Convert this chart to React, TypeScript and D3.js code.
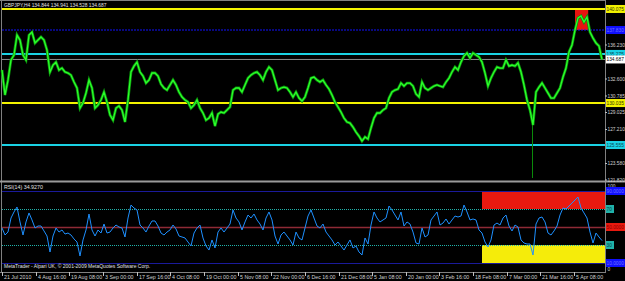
import React, { useEffect } from "react";
import * as d3 from "d3";

const W = 625;
const H = 281;

// ---- data ----
const symbolTitle = "GBPJPY,H4  134.844 134.941 134.528 134.687";
const rsiTitle = "RSI(14) 34.9270";
const footer = "MetaTrader - Alpari UK, \u00a9 2001-2009 MetaQuotes Software Corp.";

const closes = [
  133.56, 130.89, 132.49, 134.63, 135.16, 137.29, 136.76, 135.16, 134.63, 137.29,
  137.61, 136.44, 136.76, 137.08, 136.76, 135.69, 133.35, 134.09, 134.41, 133.56,
  133.77, 133.35, 133.24, 133.02, 132.28, 131.64, 129.5, 130.04, 131.1, 132.49,
  131.64, 129.5, 129.82, 130.36, 131.21, 130.14, 128.75, 128.22, 129.5, 129.72,
  129.29, 128.01, 130.36, 133.35, 133.98, 134.41, 133.35, 132.92, 132.17, 132.49,
  133.24, 133.24, 132.92, 132.06, 131.64, 131.42, 131.96, 132.49, 131.96, 131.21,
  130.68, 130.36, 130.14, 129.5, 129.82, 130.36, 129.5, 128.97, 128.22, 128.43,
  128.97, 127.58, 128.86, 129.07, 128.97, 129.29, 129.61, 131.42, 131.64, 131.64,
  131.21, 131.96, 132.7, 133.02, 133.24, 133.35, 133.02, 132.49, 133.35, 133.88,
  133.56, 132.49, 131.42, 131.64, 131.74, 131.64, 131.21, 130.68, 131.21, 130.57,
  130.25, 130.68, 131.64, 132.7, 132.81, 132.49, 132.28, 132.49, 131.96, 131.53,
  130.89, 130.14, 129.61, 129.07, 128.43, 128.01, 127.9, 127.47, 126.94, 126.51,
  125.98, 126.41, 126.19, 127.37, 128.43, 128.97, 128.97, 129.29, 129.5, 130.57,
  131.21, 131.42, 131.53, 132.17, 131.85, 132.17, 132.17, 131.85, 131.0, 130.68,
  132.28, 131.64, 131.42, 131.64, 131.85, 131.96, 131.85, 131.74, 132.28, 132.7,
  133.35, 133.88, 133.56, 134.41, 135.05, 135.37, 134.84, 135.37, 135.16, 134.95,
  134.41, 133.24, 131.85, 132.7, 133.35, 133.88, 133.77, 133.77, 134.63, 133.98,
  134.09, 133.98, 134.31, 133.35, 131.96, 130.36, 129.29, 127.69, 131.21, 131.74,
  132.17, 131.64, 131.1, 130.57, 130.57, 131.1, 131.64, 132.81, 133.77, 135.48,
  136.23, 137.83, 139.11, 139.32, 138.68, 139.22, 137.61, 136.97, 136.44, 136.12,
  134.687,
];

const rsiValues = [
  48.9, 41.1, 44.4, 60.0, 66.7, 72.2, 55.6, 41.1, 55.6, 65.6,
  57.8, 48.9, 51.1, 51.1, 45.6, 40.0, 22.2, 40.0, 48.9, 44.4,
  46.7, 42.2, 43.3, 41.1, 36.7, 33.3, 17.8, 35.6, 46.7, 64.4,
  46.7, 40.0, 46.7, 43.3, 53.3, 43.3, 44.4, 48.9, 52.2, 50.0,
  48.9, 38.9, 60.0, 74.4, 71.1, 68.9, 52.2, 48.9, 44.4, 51.1,
  56.7, 56.7, 51.1, 43.3, 41.1, 44.4, 46.7, 52.2, 47.8, 40.0,
  38.9, 37.8, 33.3, 28.9, 43.3, 48.9, 52.2, 37.8, 28.9, 24.4,
  35.6, 26.7, 44.4, 48.9, 44.4, 48.9, 53.3, 68.9, 60.0, 55.6,
  46.7, 55.6, 63.3, 60.0, 64.4, 57.8, 53.3, 46.7, 60.0, 66.7,
  57.8, 40.0, 31.1, 41.1, 44.4, 40.0, 35.6, 30.0, 44.4, 37.8,
  35.6, 48.9, 62.2, 68.9, 60.0, 51.1, 48.9, 53.3, 44.4, 40.0,
  35.6, 30.0, 33.3, 28.9, 24.4, 30.0, 35.6, 26.7, 28.9, 22.2,
  18.9, 37.8, 31.1, 52.2, 66.7, 60.0, 55.6, 57.8, 60.0, 73.3,
  68.9, 63.3, 57.8, 66.7, 51.1, 55.6, 53.3, 44.4, 32.2, 31.1,
  48.9, 38.9, 41.1, 57.8, 62.2, 66.7, 52.2, 54.4, 58.9, 53.3,
  57.8, 62.2, 61.1, 62.2, 74.4, 66.7, 57.8, 58.9, 57.8, 46.7,
  43.3, 33.3, 27.8, 35.6, 52.2, 54.4, 52.2, 60.0, 63.3, 51.1,
  45.6, 52.2, 50.0, 35.6, 32.2, 31.1, 31.1, 18.9, 53.3, 60.0,
  61.1, 55.6, 43.3, 41.1, 45.6, 51.1, 63.3, 71.1, 70.0, 73.3,
  76.7, 80.0, 83.3, 71.1, 65.6, 60.0, 44.4, 32.2, 43.3, 38.9,
  34.93,
];

// long lower wick of one bar (bar index, low)
const spikeBar = 177;
const spikeLow = 122.03;

const dateLabels = [
  "21 Jul 2010", "4 Aug 16:00", "19 Aug 08:00", "3 Sep 00:00", "17 Sep 16:00",
  "4 Oct 08:00", "19 Oct 00:00", "5 Nov 08:00", "22 Nov 00:00", "6 Dec 16:00",
  "21 Dec 08:00", "5 Jan 08:00", "20 Jan 00:00", "3 Feb 16:00", "18 Feb 08:00",
  "7 Mar 00:00", "21 Mar 16:00", "5 Apr 08:00",
];
const barsPerDateLabel = 11.217;

const priceTicks = [136.23, 132.6, 130.785, 129.025, 127.21, 123.58, 121.82];
const priceTickLabels = ["136.230", "132.600", "130.785", "129.025", "127.210", "123.580", "121.820"];

const yellowLevels = [140.075, 130.035];
const yellowLabels = ["140.075", "130.035"];
const cyanLevels = [135.275, 125.555];
const cyanLabels = ["135.275", "125.555"];
const blueLevel = 137.83;
const blueLabel = "137.830";
const bidPrice = 134.687;
const bidLabel = "134.687";

// red box on price chart: bar range, price range
const priceZoneBars = [191, 195.4];
const priceZone = [137.83, 140.075];

// RSI levels and zones
const rsiLevels = [90, 70, 50, 30, 10];
const rsiLevelLabels = ["90.0000", "70", "50.0000", "30", "10.0000"];
const rsiZoneStartBar = 160;
const rsiUpperZone = [70, 90];
const rsiLowerZone = [10, 30];

// ---- layout ----
const plotLeft = 2;
const plotRight = 605;
const mainTop = 0;
const mainBottom = 181;
const rsiTop = 182;
const rsiBottom = 272;
const FONT = "'Liberation Sans', Arial, sans-serif";
const FS = 5.3;
const AFS = 4.8;

export default function App() {
  useEffect(() => {
    document.body.style.margin = "0";
    document.body.style.background = "#000";
  }, []);

  const n = closes.length;
  const x = d3.scaleLinear().domain([0, n - 1]).range([plotLeft, 602]);
  const yP = d3.scaleLinear().domain([121.713, 141.034]).range([mainBottom, mainTop]);
  const yR = d3.scaleLinear().domain([0, 100]).range([rsiBottom, rsiTop]);

  const priceLine = d3
    .line<number>()
    .x((_, i) => x(i))
    .y((d) => yP(d))(closes) as string;
  const rsiLine = d3
    .line<number>()
    .x((_, i) => x(i))
    .y((d) => yR(d))(rsiValues) as string;

  const labelBox = (y: number, text: string, bg: string, fg: string, w = 19, key?: string) => (
    <g key={key ?? text}>
      <rect x={606} y={y - 4} width={w} height={8} fill={bg} />
      <text x={606.5} y={y + 1.8} fontSize={AFS} fill={fg} fontFamily={FONT}>
        {text}
      </text>
    </g>
  );

  const rsiZoneX = x(rsiZoneStartBar);

  return (
    <svg
      width={W}
      height={H}
      style={{ position: "fixed", left: 0, top: 0, display: "block", background: "#000" }}
    >
      <rect x={0} y={0} width={W} height={H} fill="#000" />

      {/* borders */}
      <line x1={0} x2={plotRight} y1={0.5} y2={0.5} stroke="#808080" strokeWidth={1} />
      <line x1={plotLeft - 0.5} x2={plotLeft - 0.5} y1={0} y2={rsiBottom} stroke="#808080" strokeWidth={1} />
      <line x1={plotRight + 0.5} x2={plotRight + 0.5} y1={0} y2={rsiBottom + 1} stroke="#808080" strokeWidth={1} />
      <line x1={0} x2={W} y1={181.5} y2={181.5} stroke="#9a9a9a" strokeWidth={2} />
      <line x1={0} x2={plotRight} y1={rsiBottom + 0.5} y2={rsiBottom + 0.5} stroke="#808080" strokeWidth={1} />

      {/* ---- main panel ---- */}
      <rect
        x={x(priceZoneBars[0])}
        y={yP(priceZone[1])}
        width={x(priceZoneBars[1]) - x(priceZoneBars[0])}
        height={yP(priceZone[0]) - yP(priceZone[1])}
        fill="#e8130f"
      />
      {yellowLevels.map((v, i) => (
        <line key={"yl" + i} x1={plotLeft} x2={plotRight} y1={yP(v)} y2={yP(v)} stroke="#f2f200" strokeWidth={2} />
      ))}
      <line
        x1={plotLeft}
        x2={plotRight}
        y1={yP(blueLevel)}
        y2={yP(blueLevel)}
        stroke="#1010ff"
        strokeWidth={1}
        strokeDasharray="2,1"
      />
      {cyanLevels.map((v, i) => (
        <line key={"cl" + i} x1={plotLeft} x2={plotRight} y1={yP(v)} y2={yP(v)} stroke="#1ad2e4" strokeWidth={2} />
      ))}
      <line x1={plotLeft} x2={plotRight} y1={yP(bidPrice)} y2={yP(bidPrice)} stroke="#8c8c8c" strokeWidth={1} />

      {/* wick */}
      <line
        x1={x(spikeBar) - 0.5}
        x2={x(spikeBar) - 0.5}
        y1={yP(closes[spikeBar])}
        y2={yP(spikeLow)}
        stroke="#0a8a0a"
        strokeWidth={1}
      />
      <path d={priceLine} fill="none" stroke="#0b8f0b" strokeWidth={2.8} strokeLinejoin="miter" />
      <path d={priceLine} fill="none" stroke="#2bff2b" strokeWidth={1.3} strokeLinejoin="miter" />

      <text x={4} y={6.5} fontSize={4.9} fill="#e0e0e0" fontFamily={FONT}>
        {symbolTitle}
      </text>

      {/* price axis */}
      {priceTicks.map((v, i) => (
        <g key={"pt" + i}>
          <line x1={plotRight} x2={plotRight + 2} y1={yP(v)} y2={yP(v)} stroke="#c0c0c0" strokeWidth={1} />
          <text x={607.5} y={yP(v) + 1.8} fontSize={AFS} fill="#d0d0d0" fontFamily={FONT}>
            {priceTickLabels[i]}
          </text>
        </g>
      ))}
      {yellowLevels.map((v, i) => labelBox(yP(v), yellowLabels[i], "#f2f200", "#303000", 19, "yb" + i))}
      {labelBox(yP(blueLevel), blueLabel, "#1010ff", "#7070ff", 19, "bb")}
      {cyanLevels.map((v, i) => labelBox(yP(v), cyanLabels[i], "#1ad2e4", "#0a4a55", 19, "cb" + i))}
      {labelBox(yP(bidPrice), bidLabel, "#ffffff", "#000000", 19, "bid")}

      {/* ---- RSI panel ---- */}
      <rect
        x={rsiZoneX}
        y={yR(rsiUpperZone[1]) + 1}
        width={plotRight - rsiZoneX}
        height={yR(rsiUpperZone[0]) - yR(rsiUpperZone[1]) - 1}
        fill="#e8190f"
      />
      <rect
        x={rsiZoneX}
        y={yR(rsiLowerZone[1])}
        width={plotRight - rsiZoneX}
        height={yR(rsiLowerZone[0]) - yR(rsiLowerZone[1])}
        fill="#f5ec0a"
      />
      {rsiLevels.map((v, i) => {
        const y = Math.round(yR(v)) + 0.5;
        if (v === 50)
          return <line key={"rl" + i} x1={plotLeft} x2={plotRight} y1={y} y2={y} stroke="#8e2a36" strokeWidth={1.6} />;
        if (v === 70 || v === 30)
          return (
            <line key={"rl" + i} x1={plotLeft} x2={plotRight} y1={y} y2={y} stroke="#20b2aa" strokeWidth={1} strokeDasharray="1,1" />
          );
        return <line key={"rl" + i} x1={plotLeft} x2={plotRight} y1={y} y2={y} stroke="#1a1a9a" strokeWidth={1} />;
      })}
      <path d={rsiLine} fill="none" stroke="#1e90ff" strokeWidth={1} strokeLinejoin="miter" />

      <text x={4} y={189} fontSize={FS} fill="#e0e0e0" fontFamily={FONT}>
        {rsiTitle}
      </text>
      <text x={4} y={268} fontSize={5} fill="#e0e0e0" fontFamily={FONT}>
        {footer}
      </text>

      <text x={607.5} y={188} fontSize={AFS} fill="#d0d0d0" fontFamily={FONT}>
        100
      </text>
      <text x={607.5} y={271} fontSize={AFS} fill="#d0d0d0" fontFamily={FONT}>
        0
      </text>
      {rsiLevels.map((v, i) => {
        const y = yR(v);
        if (v === 70 || v === 30) return labelBox(y, rsiLevelLabels[i], "#20b2aa", "#0a4040", 8, "rb" + i);
        if (v === 50) return labelBox(y, rsiLevelLabels[i], "#e8190f", "#900000", 19, "rb" + i);
        return labelBox(y, rsiLevelLabels[i], "#1010ff", "#7070ff", 19, "rb" + i);
      })}

      {/* time axis */}
      {dateLabels.map((lab, k) => {
        const xx = Math.round(x(k * barsPerDateLabel)) + 0.5;
        return (
          <g key={"dl" + k}>
            <line x1={xx} x2={xx} y1={rsiBottom} y2={rsiBottom + 4} stroke="#c0c0c0" strokeWidth={1} />
            <text x={xx + 1.5} y={279} fontSize={FS} fill="#d0d0d0" fontFamily={FONT}>
              {lab}
            </text>
          </g>
        );
      })}
    </svg>
  );
}
